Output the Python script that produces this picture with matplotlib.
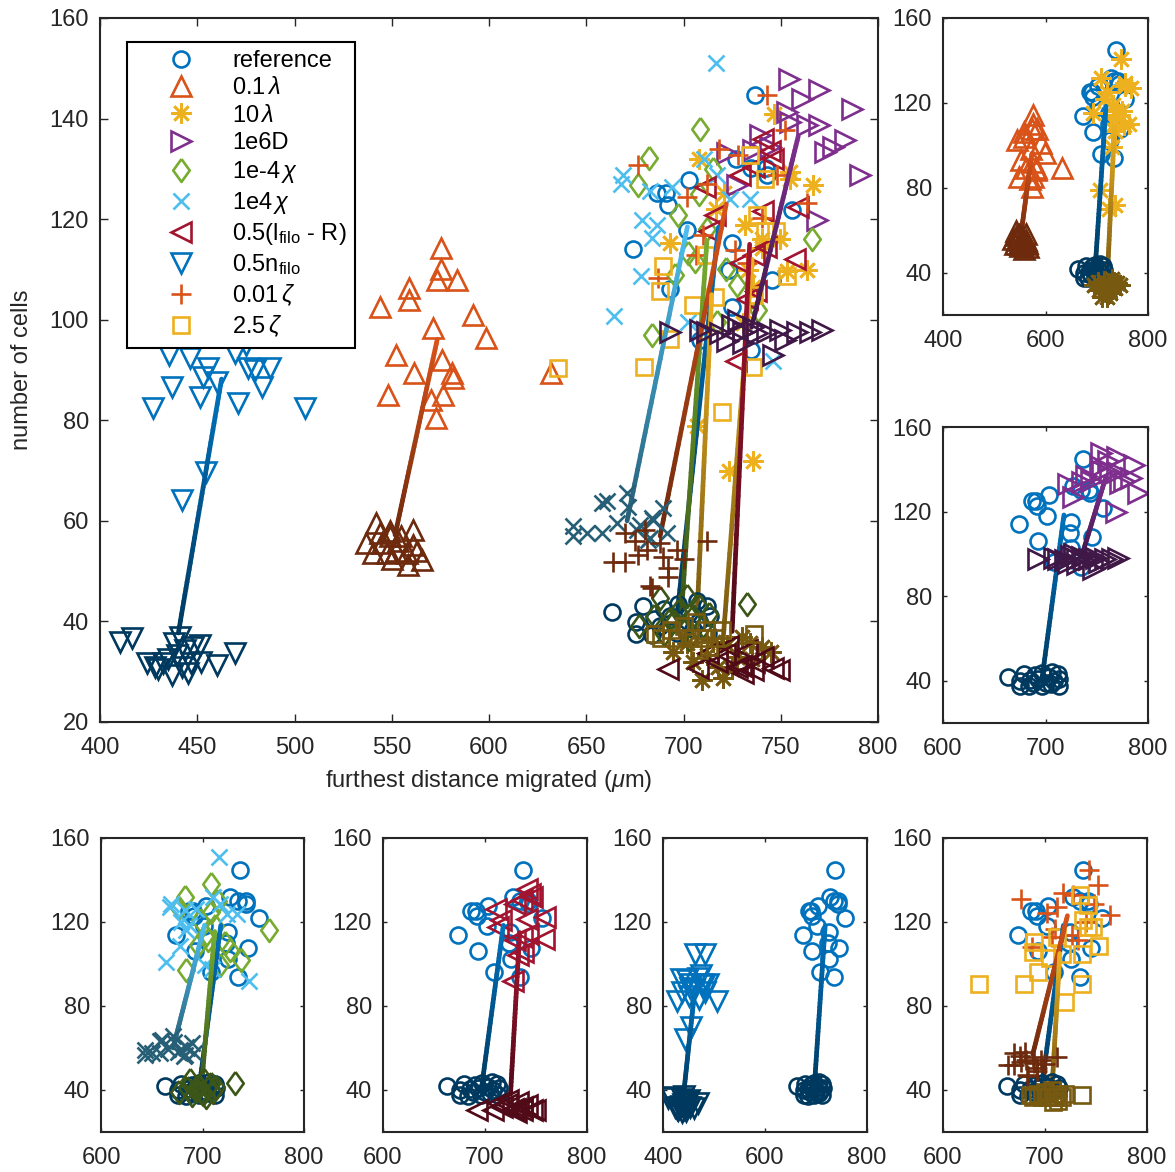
import numpy as np
import matplotlib
matplotlib.use('Agg')
import matplotlib.pyplot as plt
from matplotlib.collections import LineCollection
from matplotlib.lines import Line2D
from matplotlib.colors import to_rgb

plt.rcParams['font.family'] = ['Liberation Sans', 'DejaVu Sans']
plt.rcParams['mathtext.fontset'] = 'custom'
plt.rcParams['mathtext.rm'] = 'Liberation Sans'
plt.rcParams['mathtext.it'] = 'Liberation Sans:italic'
plt.rcParams['mathtext.bf'] = 'Liberation Sans:bold'

# ---------------------------------------------------------------------------
# cell positions: furthest distance migrated (um) vs number of cells
# "late" = end of simulation, "early" = earlier snapshot
# ---------------------------------------------------------------------------
ref_late_x = [737, 727, 734.5, 742.4, 743, 703, 686.5, 691, 692, 756, 701.6, 674, 724.8, 723.6, 745.3, 693, 725, 708.5, 734.5]
ref_late_y = [144.7, 131.9, 130.1, 130.1, 128.8, 127.8, 125.1, 125.1, 122.8, 121.8, 117.9, 114, 115.2, 109.9, 107.8, 106.1, 102.6, 96, 94]
ref_early_x = [663, 679, 675.6, 675.6, 683.6, 688, 693, 696.5, 706.7, 703, 712, 713.6, 712.7, 700, 708, 690, 697, 705, 685]
ref_early_y = [41.8, 43, 39.8, 37.5, 37.3, 39, 41, 37.7, 44, 41.6, 43, 41, 37.7, 39, 40, 42.5, 43.5, 38.5, 40.5]

lam01_late_x = [575.3, 575.3, 573.4, 583.7, 558.9, 558.9, 591.6, 571, 598.5, 552, 575.7, 561.6, 580.8, 581.3, 548.2, 576.5, 570, 572.7, 631.7, 544]
lam01_late_y = [114.2, 110, 107.8, 107.8, 106.3, 104, 101, 98.3, 96.3, 93, 92, 89.4, 89.4, 88.4, 85, 85, 84, 80.4, 89.4, 102.6]
lam01_early_x = [542, 537, 549, 540.5, 544, 549, 553.4, 561, 561, 557.7, 565.4, 558.5, 547.4, 552, 555, 545, 550, 563]
lam01_early_y = [59.5, 55.6, 57.9, 53.6, 57.6, 56.9, 55.9, 58.2, 55.2, 53.6, 52.2, 51.2, 53.6, 54, 57, 55.5, 52.5, 54]

lam10_late_x = [746.5, 708, 755, 755, 766.7, 720.8, 716.7, 731.6, 693, 740.2, 749.6, 740.2, 763.3, 753, 733.3, 735.8, 730.7, 706.7, 723.5, 735.9]
lam10_late_y = [140.9, 131.9, 129.4, 128, 126.8, 125.1, 122, 118.8, 115.2, 116, 116, 114.2, 109.9, 109.6, 109.9, 106.6, 99.3, 78.9, 70, 72]
lam10_early_x = [694.8, 701.6, 709.3, 720.4, 722.2, 734.2, 740.2, 711.9, 727.3, 717.9, 730, 715, 725, 705, 735, 745]
lam10_early_y = [34, 35.7, 28.4, 28.7, 35.3, 35.7, 35, 33.4, 33, 31, 37, 36, 30.5, 32, 32.5, 34]

d6_late_x = [754.4, 769.8, 760.8, 786.4, 753, 754.8, 763.3, 769.8, 783, 772.8, 777, 739.3, 744.5, 722.2, 735.9, 790.7, 727.3, 768.5]
d6_late_y = [147.8, 145.7, 143.8, 142, 141.4, 139.4, 138.7, 138.7, 135.7, 133.4, 134.4, 136.7, 134.4, 133.1, 133.8, 128.8, 126.8, 119.8]
d6_early_x = [693, 718.8, 730.7, 742.7, 749.6, 758.2, 771, 722.2, 730.7, 746, 711.9, 737.6, 708.5, 725, 735.9, 752, 765, 728]
d6_early_y = [97.6, 97.3, 97.6, 97.6, 98, 97.6, 98, 95.7, 95.3, 93, 97.6, 97.3, 98, 99, 98.6, 96, 97.5, 100]

chilo_late_x = [708.5, 682.4, 676.7, 715.3, 708.1, 697.4, 765.9, 702.4, 705.9, 695.6, 727.3, 738.4, 683.6, 717, 712, 722]
chilo_late_y = [137.9, 132.1, 126.8, 129.9, 125, 120.8, 116, 113.2, 111.6, 108.9, 106.9, 102, 97, 99.6, 118, 110]
chilo_early_x = [688, 732.5, 677, 701.6, 695, 700, 705, 710, 690, 697, 703, 708, 693, 713, 699, 685]
chilo_early_y = [44.6, 43.5, 39, 45, 40, 38, 41, 39, 37.5, 42, 36.5, 43, 40.5, 41.5, 39, 41]

chihi_late_x = [716.5, 668.7, 667.8, 682.6, 710.7, 717.4, 724, 734, 678.5, 686.5, 684, 678, 664.3, 702.5, 709, 746.2, 694]
chihi_late_y = [151, 128.8, 127, 125.5, 131.9, 128.7, 124, 124, 119.8, 118.8, 116.2, 108.6, 100.8, 99.6, 97.8, 91.7, 126.3]
chihi_early_x = [658, 660.5, 670.8, 671.6, 643.4, 643.4, 650.2, 657.9, 677.6, 684.5, 689.6, 681.9, 691.3, 675.9, 683.6, 682.8, 666]
chihi_early_y = [63.5, 64, 65.5, 62.8, 58.9, 56.9, 57.6, 57.6, 59.2, 60.2, 62.5, 56.2, 57.6, 58.2, 60.5, 56.6, 59.5]

lfilo_late_x = [741, 744.3, 736, 746, 711, 729, 716, 713, 741, 759, 736, 742.6, 729, 757.4, 732.5, 737.4, 727]
lfilo_late_y = [135.9, 133.5, 130.3, 131.9, 126.3, 128.7, 120.8, 117.6, 121.6, 122.4, 112.9, 114.4, 111.3, 112, 104.1, 105.7, 91.7]
lfilo_early_x = [692, 707.6, 746.2, 735.9, 730.7, 727.3, 712.7, 721.3, 729.5, 736, 749, 723, 732.8, 717, 741]
lfilo_early_y = [30.5, 30.7, 30.7, 30.4, 29.7, 31, 33.7, 33.5, 31.1, 32, 30.3, 35.1, 34.3, 32, 33]

nfilo_late_x = [462, 482, 435.6, 446.3, 469.4, 455.7, 452.8, 460, 436.8, 427.4, 451.4, 471.1, 476.2, 479.7, 487.4, 483.1, 505.4, 454.5, 442.3, 475]
nfilo_late_y = [105, 105, 93, 92.3, 93.3, 90.4, 88.7, 87.7, 86.7, 82.4, 84.7, 83.4, 90.4, 90, 90.4, 86.7, 82.4, 69.8, 64.2, 95]
nfilo_early_x = [410.3, 416.3, 441, 448, 424, 428.3, 432.5, 436.8, 442, 447, 460, 469.4, 439.4, 443.7, 451.4, 435, 430, 445, 438, 452]
nfilo_early_y = [36, 36.7, 37, 35, 31.7, 31, 31.7, 29.4, 31, 31.7, 31.4, 33.7, 33.4, 34.4, 35.3, 32.5, 30.5, 29.8, 35.8, 32]

zeta001_late_x = [742.8, 752.2, 676.7, 718, 727.9, 747.9, 701.6, 763.3, 740.2, 710.2, 726.5, 687, 732.8, 706.6, 712]
zeta001_late_y = [144.7, 137.7, 130.8, 134, 132.7, 128.8, 124.5, 123.2, 120.2, 116.9, 113.9, 108.3, 111.3, 112.9, 127]
zeta001_early_x = [669.9, 669.9, 663.9, 676.7, 681, 689.6, 692.2, 692.2, 683.6, 711.9, 688, 696.5, 682.8, 680.3, 700, 675]
zeta001_early_y = [57.6, 51.9, 51.9, 53.2, 54.2, 52.9, 50.6, 48.9, 46.6, 55.9, 55.6, 54.2, 47, 58.1, 52.5, 56]

zeta25_late_x = [734.4, 742, 737.7, 742, 747.5, 753, 711.5, 716.2, 689.3, 688, 705, 736, 693, 679.7, 735.9, 635.6, 719.6]
zeta25_late_y = [132.7, 127.9, 120.8, 117.6, 117.6, 108.6, 112.9, 104.6, 110.6, 105.7, 103, 104.9, 96.2, 90.6, 90.6, 90.3, 81.7]
zeta25_early_x = [685.2, 693.4, 700, 703.3, 708.2, 711.5, 716.4, 736, 696.7, 706.6, 713, 688.5, 710, 719.7]
zeta25_early_y = [37.5, 38.3, 39, 36.7, 34.3, 38.3, 36.7, 37.5, 36.7, 39.8, 35, 36.7, 36.7, 38.3]

# mean trajectory of each condition: (x_start, y_start, x_end, y_end)
ref_track = [696.5, 40.5, 718, 118.4]
lam01_track = [551.7, 57.2, 573.4, 96.1]
lam10_track = [720.4, 36.5, 735.3, 112]
d6_track = [735, 98.5, 759, 136.5]
chilo_track = [699, 42, 712, 115.5]
chihi_track = [671, 60, 702, 118.5]
lfilo_track = [725, 38, 734, 115]
nfilo_track = [440.3, 37.7, 462.5, 88.2]
zeta001_track = [688, 57, 722, 123]
zeta25_track = [707, 41.5, 714.5, 105]

labels = ['reference', r'0.1$\,\lambda$', r'10$\,\lambda$', '1e6D', r'1e-4$\,\chi$',
          r'1e4$\,\chi$', r'0.5(l$_{\mathrm{filo}}$ - R)', r'0.5n$_{\mathrm{filo}}$',
          r'0.01$\,\zeta$', r'2.5$\,\zeta$']

# MATLAB default line colours
blue, orange, yellow = '#0072BD', '#D95319', '#EDB120'
purple, green, cyan, red = '#7E2F8E', '#77AC30', '#4DBEEE', '#A2142F'

# custom diamond (taller than wide, like MATLAB 'd')
diamond = [(0, 1), (0.72, 0), (0, -1), (-0.72, 0), (0, 1)]

# name: (label, marker, markersize, colour, late, early, track)
series = {
    'ref': (labels[0], 'o', 11.5, blue, (ref_late_x, ref_late_y), (ref_early_x, ref_early_y), ref_track),
    'lam01': (labels[1], '^', 14, orange, (lam01_late_x, lam01_late_y), (lam01_early_x, lam01_early_y), lam01_track),
    'lam10': (labels[2], (8, 2, 0), 14.5, yellow, (lam10_late_x, lam10_late_y), (lam10_early_x, lam10_early_y), lam10_track),
    'd6': (labels[3], '>', 14, purple, (d6_late_x, d6_late_y), (d6_early_x, d6_early_y), d6_track),
    'chilo': (labels[4], diamond, 16.5, green, (chilo_late_x, chilo_late_y), (chilo_early_x, chilo_early_y), chilo_track),
    'chihi': (labels[5], 'x', 11.5, cyan, (chihi_late_x, chihi_late_y), (chihi_early_x, chihi_early_y), chihi_track),
    'lfilo': (labels[6], '<', 14, red, (lfilo_late_x, lfilo_late_y), (lfilo_early_x, lfilo_early_y), lfilo_track),
    'nfilo': (labels[7], 'v', 14, blue, (nfilo_late_x, nfilo_late_y), (nfilo_early_x, nfilo_early_y), nfilo_track),
    'zeta001': (labels[8], '+', 14.5, orange, (zeta001_late_x, zeta001_late_y), (zeta001_early_x, zeta001_early_y), zeta001_track),
    'zeta25': (labels[9], 's', 11, yellow, (zeta25_late_x, zeta25_late_y), (zeta25_early_x, zeta25_early_y), zeta25_track),
}

MEW = 1.9


def darker(c, f=0.5):
    r, g, b = to_rgb(c)
    return (r * f, g * f, b * f)


def draw_track(ax, track, c_light, n=40):
    # straight line shaded from the dark (early) to the light (late) colour
    x0, y0, x1, y1 = track
    t = np.linspace(0, 1, n + 1)
    xs = x0 + t * (x1 - x0)
    ys = y0 + t * (y1 - y0)
    pts = np.column_stack([xs, ys])
    segs = np.stack([pts[:-1], pts[1:]], axis=1)
    c0 = np.array(darker(c_light))
    c1 = np.array(to_rgb(c_light))
    tm = (t[:-1] + t[1:]) / 2
    cols = [tuple(c0 + (c1 - c0) * v) for v in tm]
    lc = LineCollection(segs, colors=cols, linewidths=3.4, capstyle='round', zorder=3)
    ax.add_collection(lc)


def draw_series(ax, names):
    for nm in names:
        lab, mk, ms, col, late, early, trk = series[nm]
        ax.plot(late[0], late[1], ls='none', marker=mk, ms=ms, mfc='none',
                mec=col, mew=MEW, zorder=2)
    for nm in names:
        lab, mk, ms, col, late, early, trk = series[nm]
        draw_track(ax, trk, col)
    for nm in names:
        lab, mk, ms, col, late, early, trk = series[nm]
        ax.plot(early[0], early[1], ls='none', marker=mk, ms=ms, mfc='none',
                mec=darker(col), mew=MEW, zorder=4)


def style_axes(ax, xlim, xticks, ticklen):
    ax.set_xlim(*xlim)
    ax.set_ylim(20, 160)
    ax.set_xticks(xticks)
    ax.tick_params(direction='in', top=True, right=True, length=ticklen, width=1.0,
                   labelsize=17, colors='#262626')
    ax.tick_params(axis='x', pad=11)
    ax.tick_params(axis='y', pad=8)
    for s in ax.spines.values():
        s.set_linewidth(1.5)
        s.set_color('#262626')


W, H = 1175, 1172
fig = plt.figure(figsize=(W / 100, H / 100), dpi=100)


def px_axes(x0, y0, x1, y1):
    return fig.add_axes([x0 / W, 1 - y1 / H, (x1 - x0) / W, (y1 - y0) / H])


# main panel with all conditions
ax = px_axes(100, 18, 878, 722)
draw_series(ax, list(series.keys()))
style_axes(ax, (400, 800), np.arange(400, 801, 50), 6)
ax.set_yticks(np.arange(20, 161, 20))
ax.set_xlabel(r'furthest distance migrated ($\mu$m)', fontsize=17, color='#262626', labelpad=6)
ax.set_ylabel('number of cells', fontsize=17, color='#262626', labelpad=12)

handles = [Line2D([], [], ls='none', marker=v[1], ms=v[2], mfc='none', mec=v[3], mew=MEW)
           for v in series.values()]
leg = ax.legend(handles, [v[0] for v in series.values()], loc='upper left',
                bbox_to_anchor=(0.0347, 0.966), fontsize=17, frameon=True, fancybox=False,
                framealpha=1, edgecolor='#000000', handlelength=3.9, handletextpad=0.2,
                borderpad=0.35, labelspacing=0.22, borderaxespad=0)
leg.get_frame().set_linewidth(1.5)
leg.set_zorder(10)

# small panels, each condition against the reference
panels = [
    ((943, 18, 1148, 315), ['ref', 'lam01', 'lam10'], (400, 800), [400, 600, 800]),
    ((943, 427, 1148, 723), ['ref', 'd6'], (600, 800), [600, 700, 800]),
    ((101, 838, 304, 1132), ['ref', 'chilo', 'chihi'], (600, 800), [600, 700, 800]),
    ((383, 838, 587, 1132), ['ref', 'lfilo'], (600, 800), [600, 700, 800]),
    ((663, 838, 867, 1132), ['ref', 'nfilo'], (400, 800), [400, 600, 800]),
    ((943, 838, 1147, 1132), ['ref', 'zeta001', 'zeta25'], (600, 800), [600, 700, 800]),
]
for box, names, xlim, xt in panels:
    a = px_axes(*box)
    draw_series(a, names)
    style_axes(a, xlim, xt, 3)
    a.set_yticks([40, 80, 120, 160])

fig.savefig('out.png', dpi=100)
